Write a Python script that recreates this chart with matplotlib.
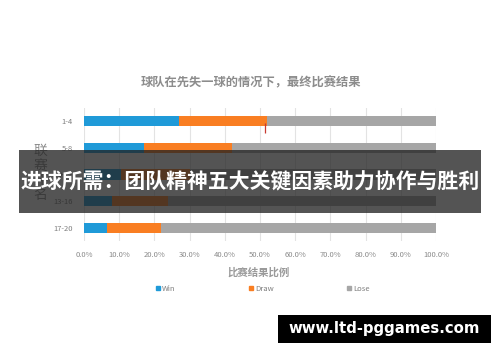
import matplotlib
matplotlib.use("Agg")
import matplotlib.pyplot as plt
from matplotlib.patches import Rectangle
from matplotlib.lines import Line2D
import numpy as np

plt.rcParams['font.family'] = ['Noto Sans CJK SC', 'DejaVu Sans']

categories = ["1-4", "5-8", "9-12", "13-16", "17-20"]
win = [27, 17, 10.4, 8, 6.5]
draw = [25, 25, 19.7, 16, 15.5]
lose = [48, 58, 69.9, 76, 78]
marker_x = 51.5
title = "球队在先失一球的情况下，最终比赛结果"
xlabel = "比赛结果比例"
ylabel = "联赛排名"
legend_labels = ["Win", "Draw", "Lose"]
banner_text = "进球所需：团队精神五大关键因素助力协作与胜利"
watermark = "www.ltd-pggames.com"

c_win = "#1f9ad8"
c_draw = "#f97e22"
c_lose = "#a6a6a6"

fig = plt.figure(figsize=(5, 3.62), dpi=100)
fig.patch.set_facecolor("white")
ax = fig.add_axes([0.168, 0.333, 0.704, 0.370])

y = np.arange(len(categories))
h = 0.38
ax.barh(y, win, height=h, color=c_win, zorder=3)
ax.barh(y, draw, left=win, height=h, color=c_draw, zorder=3)
ax.barh(y, lose, left=np.array(win) + np.array(draw), height=h, color=c_lose, zorder=3)
ax.vlines(marker_x, 0.08, 0.47, color="#c83a30", lw=0.9, zorder=4)

ax.set_xlim(0, 100)
ax.set_ylim(4.5, -0.5)
ax.set_yticks(y)
ax.set_yticklabels(categories, fontsize=5.5, color="#7f7f7f")
ax.set_xticks(np.arange(0, 101, 10))
ax.set_xticklabels([f"{v:.1f}%" for v in np.arange(0, 101, 10)], fontsize=5.5, color="#8a8a8a")
ax.tick_params(length=0, pad=7)
ax.tick_params(axis='y', pad=8)
ax.grid(axis='x', color="#e3e3e3", lw=0.8, zorder=0)
for s in ax.spines.values():
    s.set_visible(False)

fig.text(0.502, 0.770, title, ha="center", va="center", fontsize=8.8, color="#8c8c8c", fontweight="bold")
fig.text(0.518, 0.246, xlabel, ha="center", va="center", fontsize=7.5, color="#9a9a9a", fontweight="bold")
fig.text(0.08, 0.522, "\n".join(ylabel), ha="center", va="center", fontsize=10, color="#8c8c8c", linespacing=1.05)

handles = [Line2D([], [], marker='s', ls='', color=c, markersize=3) for c in (c_win, c_draw, c_lose)]
fig.legend(handles, legend_labels, ncol=3, loc="center", bbox_to_anchor=(0.524, 0.202),
           frameon=False, fontsize=5.5, labelcolor="#7f7f7f", columnspacing=9.3,
           handletextpad=0.1, handlelength=1)

fig.add_artist(Rectangle((0.038, 1 - 213 / 362), 0.924, 63 / 362, transform=fig.transFigure,
                         facecolor="#212121", alpha=0.77, edgecolor="none", zorder=10))
fig.text(0.5, 1 - 182 / 362, banner_text, ha="center", va="center", fontsize=15,
         color="white", fontweight="bold", zorder=11)

fig.add_artist(Rectangle((278 / 500, 1 - 343 / 362), 213 / 500, 28 / 362, transform=fig.transFigure,
                         facecolor="black", edgecolor="none", zorder=10))
fig.text(384 / 500, 1 - 329 / 362, watermark, ha="center", va="center", fontsize=10.7,
         color="white", fontweight="bold", family="DejaVu Sans", zorder=11)

fig.savefig("out.png", dpi=100)
